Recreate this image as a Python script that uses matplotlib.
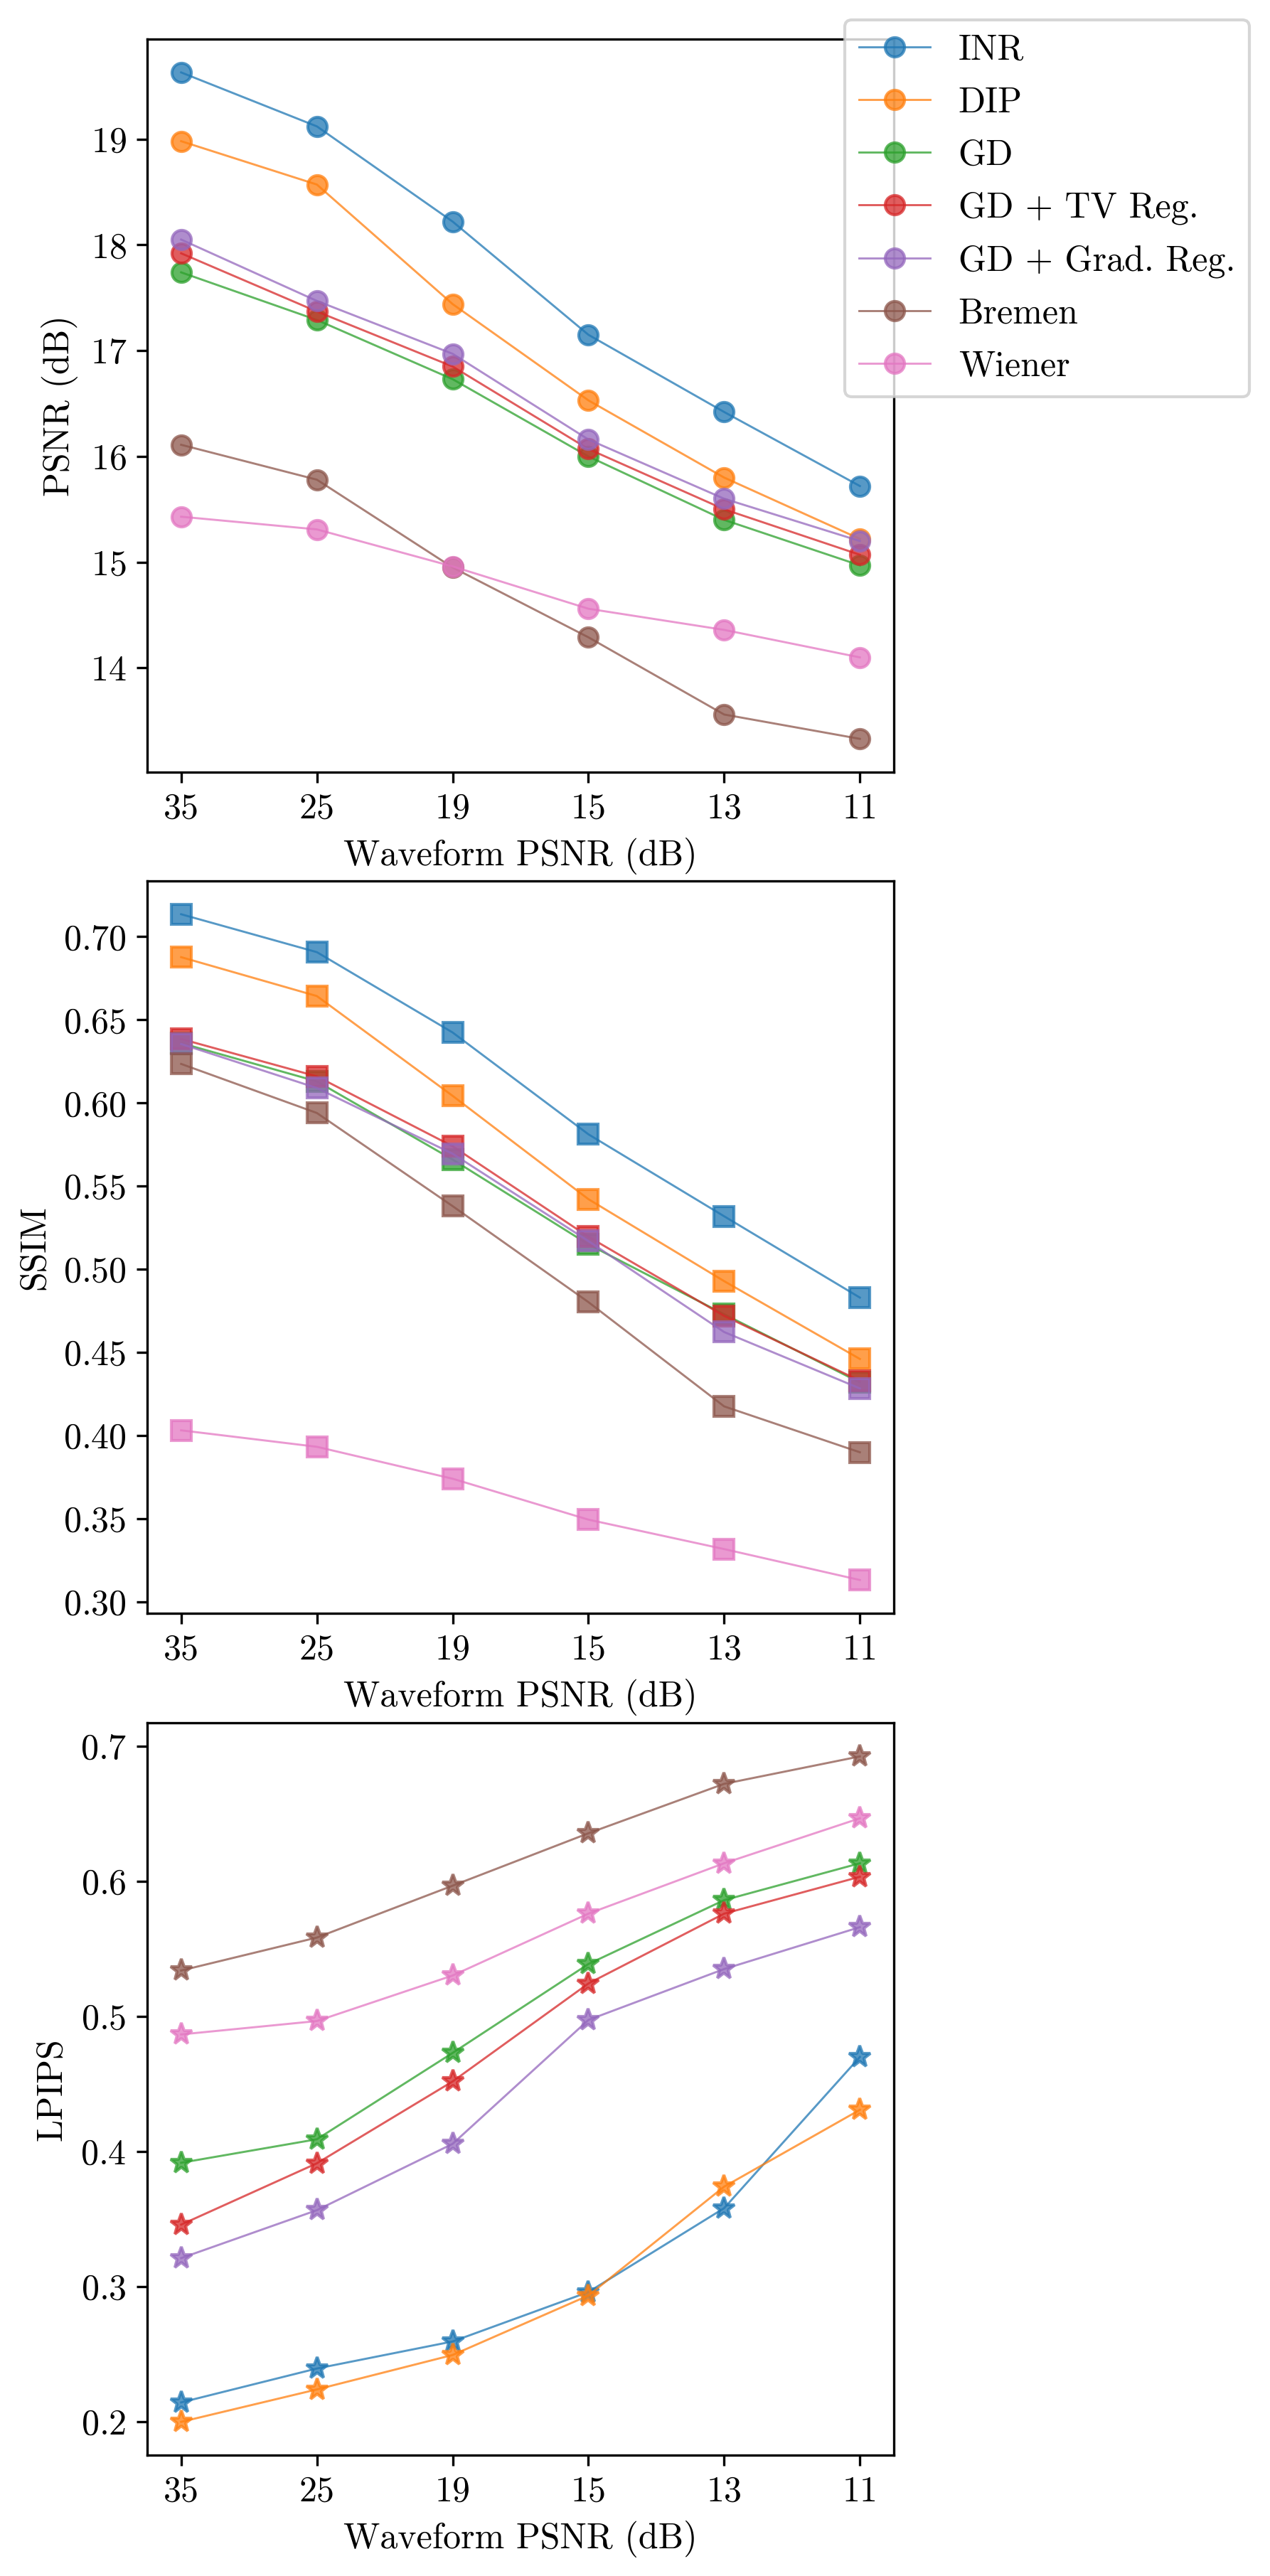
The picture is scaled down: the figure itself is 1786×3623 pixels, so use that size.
import numpy as np
import matplotlib
matplotlib.use("Agg")
import matplotlib.pyplot as plt

# Waveform PSNR levels on the x axis
noise_levels = ["35", "25", "19", "15", "13", "11"]
methods = ["INR", "DIP", "GD", "GD + TV Reg.", "GD + Grad. Reg.", "Bremen", "Wiener"]

# PSNR (dB)
psnr_inr = [19.63, 19.12, 18.22, 17.15, 16.42, 15.72]
psnr_dip = [18.98, 18.57, 17.44, 16.53, 15.80, 15.22]
psnr_gd = [17.74, 17.29, 16.73, 16.00, 15.40, 14.97]
psnr_tv = [17.92, 17.37, 16.85, 16.07, 15.50, 15.07]
psnr_grad = [18.05, 17.47, 16.97, 16.16, 15.60, 15.20]
psnr_bremen = [16.11, 15.78, 14.95, 14.29, 13.56, 13.33]
psnr_wiener = [15.43, 15.31, 14.96, 14.56, 14.36, 14.10]

# SSIM
ssim_inr = [0.7135, 0.6907, 0.6424, 0.5812, 0.5319, 0.4830]
ssim_dip = [0.6877, 0.6643, 0.6043, 0.5422, 0.4929, 0.4461]
ssim_gd = [0.6360, 0.6130, 0.5660, 0.5150, 0.4730, 0.4320]
ssim_tv = [0.6385, 0.6160, 0.5740, 0.5196, 0.4720, 0.4330]
ssim_grad = [0.6355, 0.6090, 0.5695, 0.5170, 0.4623, 0.4284]
ssim_bremen = [0.6235, 0.5940, 0.5380, 0.4803, 0.4176, 0.3900]
ssim_wiener = [0.4032, 0.3933, 0.3741, 0.3495, 0.3318, 0.3132]

# LPIPS
lpips_inr = [0.2144, 0.2395, 0.2595, 0.2961, 0.3582, 0.4701]
lpips_dip = [0.2000, 0.2240, 0.2495, 0.2935, 0.3741, 0.4310]
lpips_gd = [0.3918, 0.4092, 0.4731, 0.5389, 0.5862, 0.6135]
lpips_tv = [0.3460, 0.3914, 0.4520, 0.5245, 0.5762, 0.6035]
lpips_grad = [0.3212, 0.3567, 0.4058, 0.4975, 0.5352, 0.5662]
lpips_bremen = [0.5341, 0.5585, 0.5969, 0.6357, 0.6723, 0.6926]
lpips_wiener = [0.4868, 0.4967, 0.5304, 0.5762, 0.6135, 0.6468]

psnr = [psnr_inr, psnr_dip, psnr_gd, psnr_tv, psnr_grad, psnr_bremen, psnr_wiener]
ssim = [ssim_inr, ssim_dip, ssim_gd, ssim_tv, ssim_grad, ssim_bremen, ssim_wiener]
lpips = [lpips_inr, lpips_dip, lpips_gd, lpips_tv, lpips_grad, lpips_bremen, lpips_wiener]

plt.rcParams['font.family'] = 'serif'
plt.rcParams['font.serif'] = ['cmr10']
plt.rcParams['mathtext.fontset'] = 'cm'
plt.rcParams['axes.formatter.use_mathtext'] = True
plt.rcParams['font.size'] = 12

fig = plt.figure(figsize=(1786 / 300, 3623 / 300), dpi=300)
left, width = 0.1159, 0.5879
ax1 = fig.add_axes([left, 0.70025, width, 0.28457])
ax2 = fig.add_axes([left, 0.37372, width, 0.28430])
ax3 = fig.add_axes([left, 0.04692, width, 0.28416])

x = np.arange(len(noise_levels))
panels = [(ax1, psnr, 'o', 6.5, 'PSNR (dB)'),
          (ax2, ssim, 's', 6.5, 'SSIM'),
          (ax3, lpips, '*', 7.5, 'LPIPS')]

for ax, series, marker, ms, ylabel in panels:
    for name, vals in zip(methods, series):
        ax.plot(x, vals, marker=marker, markersize=ms, linewidth=0.7,
                alpha=0.75, label=name)
    ax.set_xticks(x)
    ax.set_xticklabels(noise_levels)
    ax.set_xlabel('Waveform PSNR (dB)')
    ax.set_ylabel(ylabel)

ax1.legend(loc='upper right', bbox_to_anchor=(0.9838, 0.99227),
           bbox_transform=fig.transFigure, borderaxespad=0,
           labelspacing=0.56)

fig.savefig('out.png', dpi=300)
